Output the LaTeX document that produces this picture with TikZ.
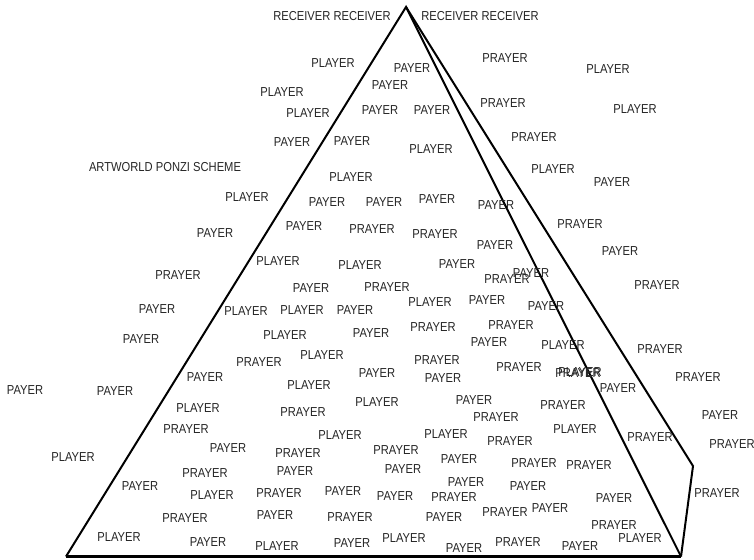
\documentclass[tikz,border=0pt]{standalone}
\usepackage{fontspec}
\setmainfont[FakeStretch=0.86]{Liberation Sans}
\newcommand\wordfont{\fontsize{13}{15}\selectfont}
\tikzset{
  word/.style={font=\wordfont, inner sep=0pt, text=black!85},
  edge/.style={line width=2pt, line join=miter},
  baseedge/.style={line width=3.5pt}
}
\begin{document}
\begin{tikzpicture}[x=1pt,y=-1pt]
\useasboundingbox (0,0) rectangle (754,559);
\coordinate (apex) at (406,7);
\coordinate (bl) at (66,556.5);
\coordinate (br) at (681,556.5);
\coordinate (oc) at (693,466);
\draw[edge] (bl) -- (apex) -- (br);
\draw[edge] (apex) -- (oc) -- (br);
\draw[baseedge] (bl) -- (br);
\foreach \t/\x/\y [count=\i] in {
RECEIVER RECEIVER/332/16, RECEIVER RECEIVER/480/16, ARTWORLD PONZI SCHEME/165/167,
PLAYER/333/63, PAYER/412/68, PRAYER/505/58, PLAYER/608/69, PAYER/390/85, PLAYER/282/92,
PLAYER/308/113, PAYER/380/110, PAYER/432/110, PRAYER/503/103, PLAYER/635/109,
PRAYER/534/137, PAYER/292/142, PAYER/352/141, PLAYER/431/149, PLAYER/351/177,
PLAYER/553/169, PAYER/612/182, PLAYER/247/197, PAYER/327/202, PAYER/384/202,
PAYER/437/199, PAYER/496/205, PRAYER/580/224, PAYER/215/233, PAYER/304/226,
PRAYER/372/229, PRAYER/435/234, PAYER/495/245, PAYER/620/251, PLAYER/278/261,
PLAYER/360/265, PAYER/457/264, PRAYER/178/275, PRAYER/507/279, PAYER/531/273,
PRAYER/657/285, PAYER/311/288, PRAYER/387/287, PLAYER/430/302, PAYER/487/300,
PAYER/546/306, PAYER/157/309, PLAYER/246/311, PLAYER/302/310, PAYER/355/310,
PLAYER/285/335, PAYER/371/333, PRAYER/433/327, PRAYER/511/325, PAYER/489/342,
PAYER/141/339, PLAYER/563/345, PRAYER/660/349, PLAYER/322/355, PRAYER/259/362,
PRAYER/437/360, PRAYER/519/367, PAYER/377/373, PAYER/443/378, PAYER/205/377,
PRAYER/578/373, PLAYER/580/372, PRAYER/698/377, PLAYER/309/385, PAYER/618/388,
PAYER/25/390, PAYER/115/391, PLAYER/377/402, PAYER/474/400, PRAYER/496/417,
PRAYER/303/412, PRAYER/563/405, PLAYER/198/408, PAYER/720/415, PRAYER/186/429,
PLAYER/340/435, PLAYER/446/434, PRAYER/510/441, PLAYER/575/429, PRAYER/650/437,
PRAYER/732/444, PAYER/228/448, PRAYER/298/453, PRAYER/396/450, PAYER/459/459,
PLAYER/73/457, PRAYER/534/463, PRAYER/589/465, PAYER/295/471, PAYER/403/469,
PRAYER/205/473, PAYER/466/482, PAYER/140/486, PAYER/528/486, PRAYER/279/493,
PAYER/343/491, PAYER/395/496, PRAYER/454/497, PLAYER/212/495, PRAYER/717/493,
PAYER/614/498, PAYER/550/508, PRAYER/505/512, PAYER/275/515, PRAYER/350/517,
PAYER/444/517, PRAYER/185/518, PRAYER/614/525, PLAYER/119/537, PLAYER/404/538,
PLAYER/640/538, PAYER/208/542, PAYER/352/543, PRAYER/518/542, PLAYER/277/546,
PAYER/464/548, PAYER/580/546}
{\node[word] (w\i) at (\x,\y) {\t};}
\end{tikzpicture}
\end{document}
